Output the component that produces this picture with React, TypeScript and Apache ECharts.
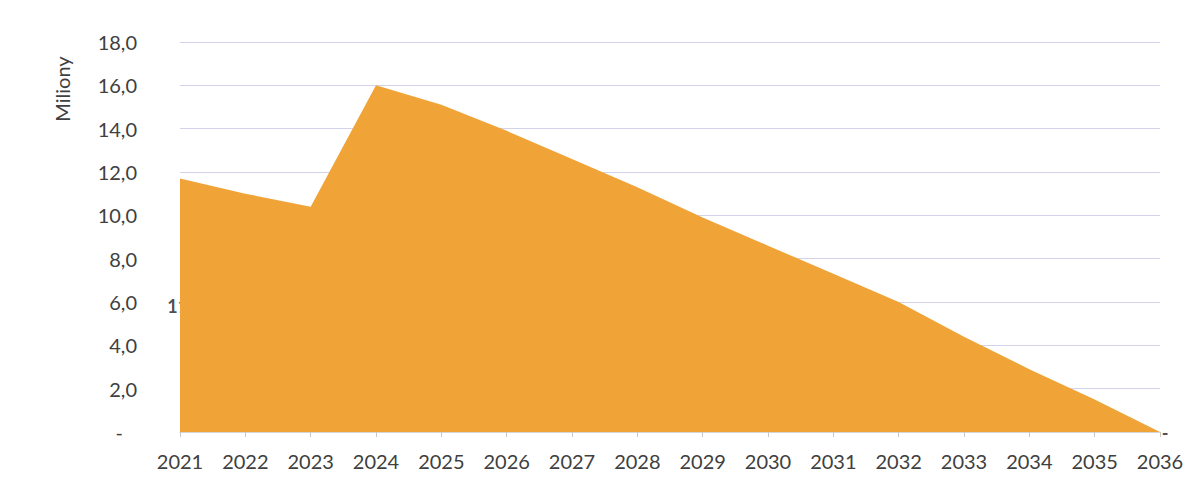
import React, { useEffect, useRef } from "react";
import * as echarts from "echarts";

const years = ["2021","2022","2023","2024","2025","2026","2027","2028","2029","2030","2031","2032","2033","2034","2035","2036"];
const values = [11.7, 11.0, 10.4, 16.0, 15.1, 13.9, 12.6, 11.3, 9.9, 8.6, 7.3, 6.0, 4.4, 2.9, 1.5, 0];
const yAxisName = "Miliony";

const fmt = (v: number) => (v === 0 ? "-" : v.toFixed(1).replace(".", ","));
const FONT = "Lato, 'Open Sans', sans-serif";

export default function App() {
  const ref = useRef<HTMLDivElement>(null);
  useEffect(() => {
    if (!ref.current) return;
    const chart = echarts.init(ref.current, undefined, { renderer: "svg" });
    chart.setOption({
      animation: false,
      backgroundColor: "#ffffff",
      grid: { left: 172, right: 32, top: 34, bottom: 46 },
      xAxis: {
        type: "category",
        data: years,
        boundaryGap: false,
        axisLine: { lineStyle: { color: "#d4d4d4", width: 1 } },
        axisTick: { show: true, length: 5, lineStyle: { color: "#c8c8c8" } },
        axisLabel: { color: "#404040", fontSize: 20, fontFamily: FONT, margin: 19 },
      },
      yAxis: {
        type: "value",
        min: 0,
        max: 18,
        interval: 2,
        axisLine: { show: false },
        axisTick: { show: false },
        splitLine: { lineStyle: { color: "#d2d2ea", width: 1 } },
        axisLabel: {
          color: "#404040",
          fontSize: 20,
          fontFamily: FONT,
          margin: 43,
          formatter: (v: number) => (v === 0 ? "{d|-}" : fmt(v)),
          rich: { d: { color: "#404040", fontSize: 20, fontFamily: FONT, padding: [0, 14, 0, 0] } },
        },
      },
      graphic: [
        {
          type: "text",
          x: 54,
          y: 81,
          rotation: Math.PI / 2,
          style: {
            text: yAxisName,
            fill: "#404040",
            fontSize: 20,
            fontFamily: FONT,
            align: "center",
            verticalAlign: "middle",
          },
        },
      ],
      series: [
        {
          type: "line",
          data: values,
          symbol: "none",
          lineStyle: { width: 0 },
          areaStyle: { color: "#F0A437", opacity: 1 },
          silent: true,
        },
        {
          type: "scatter",
          data: values.map((v, i) => [i, v / 2]),
          symbolSize: 1,
          itemStyle: { color: "rgba(0,0,0,0)" },
          silent: true,
          label: {
            show: true,
            position: "top",
            distance: 0,
            offset: [5, 10],
            color: "#1e1e1e",
            fontWeight: "bold",
            fontSize: 18,
            fontFamily: FONT,
            formatter: (p: any) => fmt(values[p.dataIndex]),
          },
        },
      ],
    });
    return () => chart.dispose();
  }, []);
  return <div ref={ref} style={{ width: 1184, height: 470 }} />;
}
